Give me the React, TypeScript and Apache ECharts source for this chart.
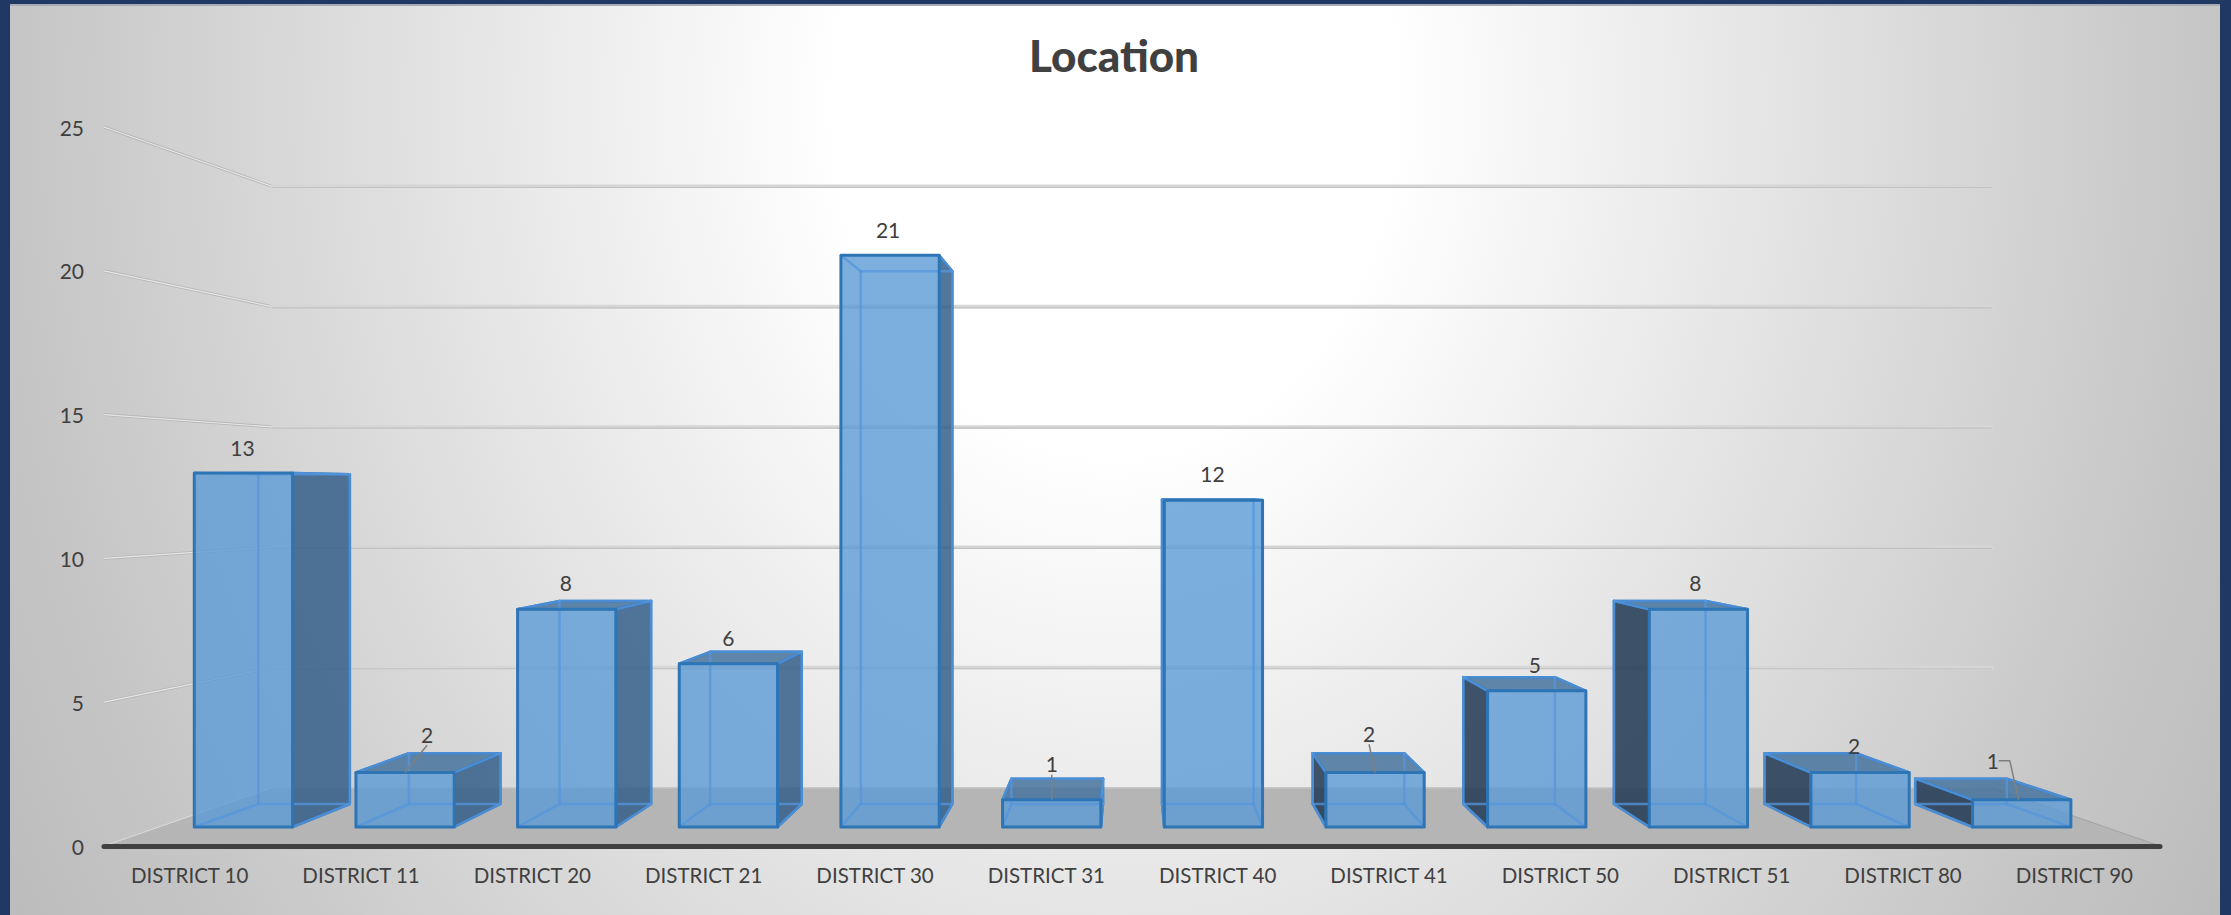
import React, { useEffect, useRef } from "react";
import * as echarts from "echarts";

const categories = ["DISTRICT 10","DISTRICT 11","DISTRICT 20","DISTRICT 21","DISTRICT 30","DISTRICT 31","DISTRICT 40","DISTRICT 41","DISTRICT 50","DISTRICT 51","DISTRICT 80","DISTRICT 90"];
const values = [13, 2, 8, 6, 21, 1, 12, 2, 5, 8, 2, 1];
const gridTicks = [5, 10, 15, 20, 25];

// label placement tweaks relative to the bar's top, and which labels carry a leader line
const labelShift: number[][] = [[-1,-26],[22,-19],[-1,-19],[0,-14],[-2,-26],[0,-15],[-1,-26],[-6,-20],[-2,-13],[-3,-19],[-6,-8],[-29,-18]];
const leaderBend = [false,false,false,false,false,false,false,false,false,false,false,true];
const hasLeader = [false,true,false,false,false,true,false,true,false,false,false,true];

// perspective of the 3-D box: vanishing point and depth scales
const VX = 1132, VY = 490;
const S_FRONT = 0.9466, S_BACK = 0.882, S_WALL = 0.8366;
const BAR_SPREAD = 0.9968, BAR_NUDGE = 0.6;
const proj = (x: number, y: number, s: number) => [VX + (x - VX) * s, VY + (y - VY) * s];

const TEXT = "#404040";
const FONT = "Lato";

function renderGrid(params: any, api: any) {
  const v = api.value(0);
  const sys = params.coordSys;
  const y = api.coord([0, v])[1];
  const a = [sys.x, y];
  const b = proj(sys.x, y, S_WALL);
  const c = proj(sys.x + sys.width, y, S_WALL);
  const children: any[] = [
    { type: "line", shape: { x1: a[0], y1: a[1], x2: b[0], y2: b[1] }, style: { stroke: "#b8b8b8", lineWidth: 3, fill: "none" } },
    { type: "line", shape: { x1: a[0], y1: a[1], x2: b[0], y2: b[1] }, style: { stroke: "#e6e6e6", lineWidth: 1.2, fill: "none" } },
    { type: "line", shape: { x1: b[0], y1: b[1], x2: c[0], y2: c[1] }, style: { stroke: "#d6d6d6", lineWidth: 3.5, fill: "none", lineCap: "round" } },
    { type: "line", shape: { x1: b[0], y1: b[1] + 1.2, x2: c[0], y2: c[1] + 1.2 }, style: { stroke: "#c2c2c2", lineWidth: 1.2, fill: "none" } },
  ];
  return { type: "group", children };
}

function renderFloor(params: any, api: any) {
  const sys = params.coordSys;
  const y0 = api.coord([0, 0])[1];
  const l = sys.x, r = sys.x + sys.width;
  const bl = proj(l, y0, S_WALL), br = proj(r, y0, S_WALL);
  return {
    type: "group",
    children: [
      { type: "polygon", shape: { points: [[l, y0], [r, y0], br, bl] }, style: { fill: "#b5b5b5" } },
      { type: "line", shape: { x1: r, y1: y0, x2: br[0], y2: br[1] }, style: { stroke: "#a2a2a2", lineWidth: 1, fill: "none" } },
      { type: "line", shape: { x1: l, y1: y0, x2: bl[0], y2: bl[1] }, style: { stroke: "#dcdcdc", lineWidth: 1, fill: "none" } },
      { type: "line", shape: { x1: bl[0], y1: bl[1], x2: br[0], y2: br[1] }, style: { stroke: "#c8c8c8", lineWidth: 1.5, fill: "none" } },
    ],
  };
}

function renderBar(params: any, api: any) {
  const i = api.value(0), v = api.value(1);
  const [cx0, yt] = api.coord([i, v]);
  const cx = VX + (cx0 - VX) * BAR_SPREAD + BAR_NUDGE;
  const yb = api.coord([i, 0])[1];
  const w = api.size([1, 0])[0] / 1.65;
  const xl = cx - w / 2, xr = cx + w / 2;
  const f = {
    tl: proj(xl, yt, S_FRONT), tr: proj(xr, yt, S_FRONT),
    bl: proj(xl, yb, S_FRONT), br: proj(xr, yb, S_FRONT),
  };
  const k = {
    tl: proj(xl, yt, S_BACK), tr: proj(xr, yt, S_BACK),
    bl: proj(xl, yb, S_BACK), br: proj(xr, yb, S_BACK),
  };
  const EDGE = "#2e75b6";
  const kids: any[] = [];
  const seg = (p: number[], q: number[], stroke: string, lineWidth: number) => ({
    type: "line", shape: { x1: p[0], y1: p[1], x2: q[0], y2: q[1] }, style: { stroke, lineWidth, fill: "none", lineCap: "round" },
  });
  if (xr < VX) {
    kids.push({ type: "polygon", shape: { points: [f.tr, k.tr, k.br, f.br] }, style: { fill: "rgba(53,95,137,0.85)", stroke: EDGE, lineWidth: 2.5, lineJoin: "round" } });
  } else if (xl > VX) {
    kids.push({ type: "polygon", shape: { points: [f.tl, k.tl, k.bl, f.bl] }, style: { fill: "rgba(38,61,87,0.88)", stroke: EDGE, lineWidth: 2.5, lineJoin: "round" } });
  }
  if (yt > VY) {
    kids.push({ type: "polygon", shape: { points: [f.tl, f.tr, k.tr, k.tl] }, style: { fill: "rgba(70,115,158,0.85)", stroke: EDGE, lineWidth: 2.5, lineJoin: "round" } });
  }
  kids.push({ type: "polygon", shape: { points: [f.tl, f.tr, f.br, f.bl] }, style: { fill: "rgba(91,155,213,0.8)", stroke: "none" } });
  const INNER = "rgba(84,150,222,0.75)";
  kids.push(seg(k.tl, k.tr, INNER, 2.5), seg(k.tr, k.br, INNER, 2.5), seg(k.br, k.bl, INNER, 2.5), seg(k.bl, k.tl, INNER, 2.5));
  kids.push(seg(f.tl, k.tl, INNER, 2.5), seg(f.tr, k.tr, INNER, 2.5), seg(f.bl, k.bl, INNER, 2.5), seg(f.br, k.br, INNER, 2.5));
  kids.push({ type: "polygon", shape: { points: [f.tl, f.tr, f.br, f.bl] }, style: { fill: "none", stroke: EDGE, lineWidth: 3, lineJoin: "round" } });
  return { type: "group", children: kids };
}

function renderLabel(params: any, api: any) {
  const i = api.value(0), v = api.value(1);
  const [cx0, yt] = api.coord([i, v]);
  const cx = VX + (cx0 - VX) * BAR_SPREAD + BAR_NUDGE;
  const fx = proj(cx, yt, S_FRONT);
  const kyTop = yt > VY ? proj(cx, yt, S_BACK)[1] : proj(cx, yt, S_FRONT)[1];
  const lx = fx[0] + labelShift[i][0];
  const ly = kyTop + labelShift[i][1];
  const kids: any[] = [];
  if (hasLeader[i]) {
    const pts = leaderBend[i]
      ? [[lx + 6, ly], [lx + 17, ly], [fx[0] - 3, fx[1]]]
      : [[lx, ly + 11], fx];
    kids.push({ type: "polyline", shape: { points: pts }, style: { stroke: "#7f7f7f", lineWidth: 1.5, fill: "none" } });
  }
  kids.push({ type: "text", style: { text: String(v), x: lx, y: ly, align: "center", verticalAlign: "middle", fill: TEXT, font: `400 21px ${FONT}` } });
  return { type: "group", children: kids };
}

export default function App() {
  const ref = useRef<HTMLDivElement>(null);
  useEffect(() => {
    const chart = echarts.init(ref.current!, undefined, { renderer: "svg" });
    const barData = values.map((v, i) => [i, v]);
    chart.setOption({
      animation: false,
      title: {
        text: "Location", left: 1109, top: 28, textAlign: "center",
        textStyle: { fontFamily: FONT, fontWeight: 900, fontSize: 44, color: TEXT },
      },
      grid: { left: 104, top: 127, width: 2056, height: 719, containLabel: false },
      xAxis: {
        type: "category", data: categories, z: 2,
        axisTick: { show: false },
        axisLine: { show: true, lineStyle: { color: "#404040", width: 5, cap: "round" } },
        axisLabel: { color: TEXT, fontFamily: FONT, fontSize: 20.5, margin: 18, interval: 0 },
      },
      yAxis: {
        type: "value", min: 0, max: 25, interval: 5,
        axisLine: { show: false }, axisTick: { show: false }, splitLine: { show: false },
        axisLabel: { color: TEXT, fontFamily: FONT, fontSize: 21, margin: 20 },
      },
      series: [
        { type: "custom", name: "gridlines", z: 1, silent: true, renderItem: renderGrid, data: gridTicks.map((t) => [t]), encode: { y: 0 } },
        { type: "custom", name: "floor", z: 1, silent: true, renderItem: renderFloor, data: [[0]], encode: { y: 0 } },
        { type: "custom", name: "Location", z: 3, renderItem: renderBar, data: barData, encode: { x: 0, y: 1 } },
        { type: "custom", name: "labels", z: 4, silent: true, renderItem: renderLabel, data: barData, encode: { x: 0, y: 1 } },
      ],
    });
    return () => chart.dispose();
  }, []);
  return (
    <div style={{ position: "fixed", left: 0, top: 0, width: 2231, height: 915, background: "#1f3864", overflow: "hidden" }}>
      <div style={{
        position: "absolute", left: 10, top: 4, width: 2210, height: 911,
        borderTop: "2px solid #a8acb2", boxSizing: "border-box",
        background: "radial-gradient(ellipse 1400px 1750px at 1105px 96px, #ffffff 20%, #c6c6c6 78%, #b6b6b6 100%)",
      }} />
      <div ref={ref} style={{ position: "absolute", left: 0, top: 0, width: 2231, height: 915 }} />
    </div>
  );
}
